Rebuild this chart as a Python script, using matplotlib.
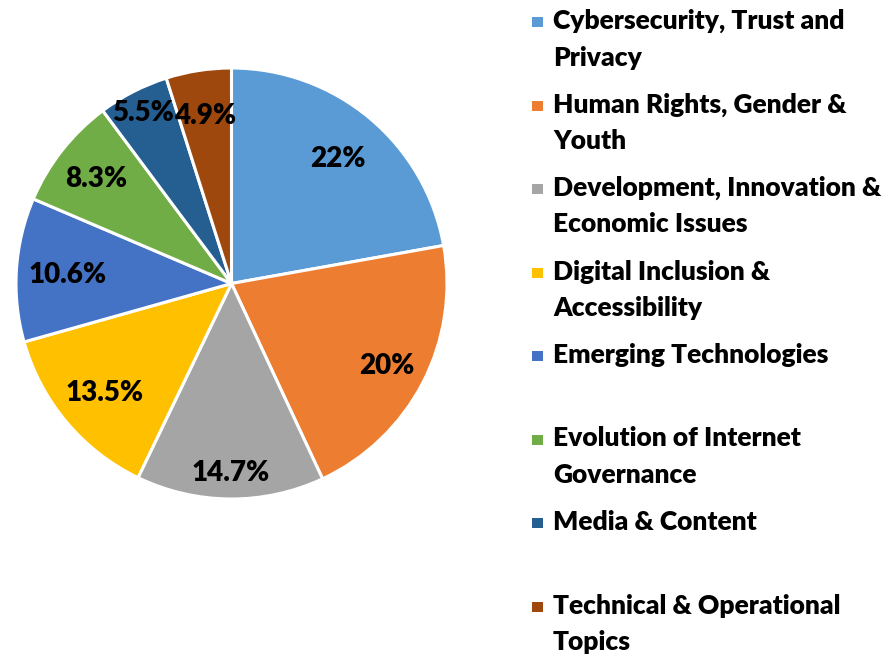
import numpy as np
import matplotlib.pyplot as plt
from matplotlib.patches import Rectangle

# data
topics = ["Cybersecurity, Trust and\nPrivacy",
          "Human Rights, Gender &\nYouth",
          "Development, Innovation &\nEconomic Issues",
          "Digital Inclusion &\nAccessibility",
          "Emerging Technologies",
          "Evolution of Internet\nGovernance",
          "Media & Content",
          "Technical & Operational\nTopics"]
# wedge sizes (labels are the printed ones)
shares = [22.2, 20.9, 14.1, 13.5, 10.8, 8.4, 5.3, 4.9]
pct_labels = ["22%", "20%", "14.7%", "13.5%", "10.6%", "8.3%", "5.5%", "4.9%"]
colors = ["#5B9BD5", "#ED7D31", "#A5A5A5", "#FFC000",
          "#4472C4", "#70AD47", "#255E91", "#9E480E"]

# label distance from centre (fraction of radius), Excel "best fit" look
label_r = [0.77, 0.81, 0.87, 0.77, 0.76, 0.80, 0.90, 0.80]

plt.rcParams['font.family'] = ['Lato', 'DejaVu Sans']

W, H = 894, 654
fig = plt.figure(figsize=(W / 100, H / 100), dpi=100)

# pie: centre (231.5, 283.5) px from top-left, radius 215.5 px
cx, cy, r = 231.5, 283.5, 215.5
ax = fig.add_axes([(cx - r) / W, (H - cy - r) / H, 2 * r / W, 2 * r / H])
wedges, texts = ax.pie(shares, labels=pct_labels, colors=colors,
                       startangle=90, counterclock=False,
                       wedgeprops=dict(edgecolor="white", linewidth=2.2),
                       textprops=dict(fontsize=20, fontweight="heavy", color="black"))
dy = 2.5 / r   # nudge labels down a little
for w, t, d in zip(wedges, texts, label_r):
    ang = np.deg2rad((w.theta1 + w.theta2) / 2)
    t.set_position((d * np.cos(ang), d * np.sin(ang) - dy))
    t.set_ha("center")
    t.set_va("center")
ax.set_xlim(-1, 1)
ax.set_ylim(-1, 1)
ax.set_aspect("auto")
ax.axis("off")

# legend, drawn by hand to get Excel-like equal spacing
base = 29.0      # baseline of first legend line, px from top
step = 83.5
line_h = 36.5
for i, (w, lab) in enumerate(zip(wedges, topics)):
    y = base + i * step
    fig.patches.append(Rectangle((532 / W, 1 - (y - 2) / H), 11 / W, 10 / H,
                                 transform=fig.transFigure,
                                 facecolor=w.get_facecolor(), edgecolor="none"))
    for j, line in enumerate(lab.split("\n")):
        fig.text(553 / W, 1 - (y + j * line_h) / H, line, fontsize=19,
                 fontweight="heavy", ha="left", va="baseline")

fig.savefig("out.png", dpi=100)
